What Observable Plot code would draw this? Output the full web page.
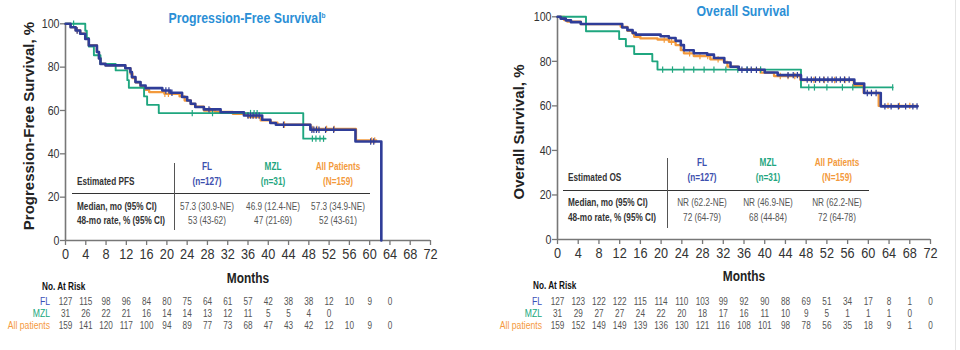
<!DOCTYPE html>
<html><head><meta charset="utf-8">
<script src="https://cdn.jsdelivr.net/npm/d3@7"></script>
<script src="https://cdn.jsdelivr.net/npm/@observablehq/plot@0.6"></script>
<style>
body{margin:0;background:#fff;}
#wrap{position:relative;width:960px;height:350px;overflow:hidden;background:#fff;
  font-family:"Liberation Sans",Arial,sans-serif;}
.abs{position:absolute;white-space:nowrap;line-height:1;}
.c{transform:translate(-50%,-50%) scaleX(0.82);}
.l{transform-origin:0 50%;transform:translate(0,-50%) scaleX(0.82);}
.title{font-size:15px;font-weight:bold;color:#2b8fd6;}
.ylab{font-size:15px;font-weight:bold;color:#222;transform:translate(-50%,-50%) rotate(-90deg);}
.xlab{font-size:14.5px;font-weight:bold;color:#222;}
.tb{font-size:10px;color:#333;font-weight:bold;}
.tv{font-size:10px;color:#555;}
.hFL{font-size:10px;font-weight:bold;color:#3d4fae;}
.hMZL{font-size:10px;font-weight:bold;color:#1fa67f;}
.hAll{font-size:10px;font-weight:bold;color:#f39a3c;}
.risk{font-size:10px;font-weight:bold;color:#111;}
.hline{position:absolute;height:0;border-top:1.6px solid #333;}
.vline{position:absolute;width:0;border-left:1.5px solid #555;}
.plot{position:absolute;top:0;}
</style></head><body><div id="wrap"></div>
<script>
// ---------- data ----------
const xTicks = [0,4,8,12,16,20,24,28,32,36,40,44,48,52,56,60,64,68,72];
const yTicks = [0,20,40,60,80,100];
const groups = ["FL","MZL","All patients"];

// PFS curves (months, % surviving)
const pfsFL_t  = [0,1.0,2.0,2.9,3.9,4.6,6.2,6.6,6.9,7.9,11.8,12.8,13.1,13.8,14.8,15.8,19.1,20.7,23.0,24.0,24.7,25.6,27.3,30.6,35.2,38.8,40.4,41.5,48.3,57.2,62.3];
const pfsFL_s  = [100,98.4,96.9,95.4,93.0,90.0,87.0,84.0,81.5,80.8,79.5,77.7,75.4,73.1,71.5,70.3,69.2,68.2,66.2,64.6,63.1,61.6,60.5,59.2,57.7,55.7,54.2,53.4,51.1,45.7,0];
const pfsMZL_t = [0,3.9,4.2,4.6,5.6,6.9,9.9,12.2,12.5,15.5,16.1,18.4,46.9,51.3];
const pfsMZL_s = [100,96.8,93.5,89.5,85.5,81.5,78.5,74.0,70.5,66.5,62.6,58.8,47.0,47.0];
const pfsAll_t = [0,1.0,2.0,2.9,3.9,4.6,6.2,6.6,6.9,7.9,11.8,12.8,13.2,13.8,14.8,15.6,16.5,19.5,22.5,23.5,24.7,25.6,27.3,29.5,33.0,36.0,38.5,40.5,41.8,48.3,57.3,61.3];
const pfsAll_s = [100,98.5,97.0,95.5,93.0,90.0,87.0,84.0,81.5,80.8,79.5,77.0,75.0,73.0,71.0,69.5,68.5,67.7,66.5,64.6,63.0,61.8,60.0,59.3,58.5,57.0,55.4,54.4,53.5,51.5,46.2,46.2];
const pfsCensFL  = [2.3,19.8,20.4,21.0,28.3,36.0,36.5,37.0,37.6,38.2,43.0,48.6,49.0,49.5,50.0,51.3,52.9,60.2,60.8];
const pfsCensMZL = [1.6,25.0,29.0,36.5,37.2,37.8,48.7,49.4,50.2,50.9];
const pfsCensAll = [2.3,19.6,20.3,28.5,43.2,48.8,49.6,51.5,53.0,60.4,61.0];

// OS curves
const osFL_t  = [0,0.6,1.6,2.6,4.5,12.5,13.5,14.5,15.1,19.9,21.5,22.8,23.8,24.4,26.3,28.9,30.2,32.2,33.4,35.0,40.0,42.5,47.0,57.3,59.2,62.4,69.5];
const osFL_s  = [100,99.2,98.4,97.6,96.8,95.2,94.0,92.8,92.0,91.3,90.5,89.2,87.3,85.0,83.6,83.0,81.5,79.5,77.6,76.2,75.0,73.8,71.8,70.0,65.8,59.8,59.8];
const osMZL_t = [0,5.5,11.9,13.2,14.8,18.3,19.3,47.0,64.7];
const osMZL_s = [100,93.5,90.0,86.8,83.3,80.0,76.3,68.3,68.3];
const osAll_t = [0,1.3,1.9,4.5,12.2,13.5,14.5,14.8,16.0,19.3,21.5,22.8,23.8,24.4,26.3,29.5,32.1,32.8,34.8,39.2,41.8,46.9,57.2,59.1,62.0,69.5];
const osAll_s = [100,98.5,97.8,96.7,95.5,93.7,92.5,91.0,90.3,89.8,88.8,87.3,85.0,83.6,82.4,80.9,79.8,77.6,76.4,74.9,73.4,71.6,69.0,65.8,60.0,60.0];
const osCensFL  = [35.6,36.6,37.4,38.4,44.5,45.5,46.3,48.2,49.0,49.8,50.6,51.4,52.2,53.0,53.8,54.6,55.4,56.3,59.8,60.6,61.5,63.2,64.4,65.8,67.2,68.6,69.4];
const osCensMZL = [20.3,22.2,24.4,26.3,28.3,30.2,32.5,34.8,36.6,39.2,48.5,49.6,52.0,55.0,57.0,64.7];
const osCensAll = [20.6,22.0,25.5,27.5,29.0,31.0,43.0,44.5,45.8,49.5,51.5,53.5,55.5,63.8,66.0,68.0];

// Number at risk (every 4 months from 0)
const pfsRiskFL  = [127,115,98,96,84,80,75,64,61,57,42,38,38,12,10,9,0];
const pfsRiskMZL = [31,26,22,21,16,14,14,13,12,11,5,5,4,0];
const pfsRiskAll = [159,141,120,117,100,94,89,77,73,68,47,43,42,12,10,9,0];
const osRiskFL   = [127,123,122,122,115,114,110,103,99,92,90,88,69,51,34,17,8,1,0];
const osRiskMZL  = [31,29,27,27,24,22,20,18,17,16,11,10,9,5,1,1,1,0];
const osRiskAll  = [159,152,149,149,139,136,130,121,116,108,101,98,78,56,35,18,9,1,0];

// table texts
const pfsTable = {
  head: "Estimated PFS",
  cols: [["FL","(n=127)"],["MZL","(n=31)"],["All Patients","(N=159)"]],
  rowLabels: ["Median, mo (95% CI)","48-mo rate, % (95% CI)"],
  vals: [["57.3 (30.9-NE)","46.9 (12.4-NE)","57.3 (34.9-NE)"],["53 (43-62)","47 (21-69)","52 (43-61)"]]
};
const osTable = {
  head: "Estimated OS",
  cols: [["FL","(n=127)"],["MZL","(n=31)"],["All Patients","(N=159)"]],
  rowLabels: ["Median, mo (95% CI)","48-mo rate, % (95% CI)"],
  vals: [["NR (62.2-NE)","NR (46.9-NE)","NR (62.2-NE)"],["72 (64-79)","68 (44-84)","72 (64-78)"]]
};

// ---------- styles ----------
const COL = {"FL":"#2f3d98","MZL":"#1fa67f","All patients":"#f39a3c"};
const LABCOL = {"FL":"#3a4fb8","MZL":"#17a77c","All patients":"#f59a3e"};
const WID = {"FL":2.6,"MZL":1.9,"All patients":2.3};
const FONT = '"Liberation Sans",Arial,sans-serif';
const SQUEEZE = 0.82;
const tickSym = {draw(ctx, size){ const r = Math.sqrt(size/Math.PI); ctx.moveTo(0,-r); ctx.lineTo(0,r); }};

function rows(t, s, g){ return t.map((m,i)=>({month:m, surv:s[i], group:g})); }
function cens(c, t, s, g){
  return c.map(m=>{ let k=0; for(let i=0;i<t.length;i++) if(t[i]<=m) k=i; return {month:m, surv:s[k], group:g}; });
}
function riskRows(arrs){
  const out=[]; arrs.forEach((a,gi)=>a.forEach((n,i)=>out.push({month:xTicks[i], row:groups[gi], n})));
  return out;
}
// horizontally condense svg text (the source uses a narrow typeface)
function squeeze(svg){
  svg.querySelectorAll("text").forEach(t=>{
    const w = t.getComputedTextLength();
    if (w>0){ t.setAttribute("textLength", (w*SQUEEZE).toFixed(2)); t.setAttribute("lengthAdjust","spacingAndGlyphs"); }
  });
}

const wrap = document.getElementById("wrap");
function addDiv(cls, html, x, y, extra){
  const d=document.createElement("div"); d.className="abs "+cls; d.innerHTML=html;
  d.style.left=x+"px"; d.style.top=y+"px"; if(extra) Object.assign(d.style, extra); wrap.appendChild(d); return d;
}

function panel(cfg){
  const series = [
    {g:"All patients", t:cfg.All_t, s:cfg.All_s, c:cfg.cAll},
    {g:"MZL", t:cfg.MZL_t, s:cfg.MZL_s, c:cfg.cMZL},
    {g:"FL", t:cfg.FL_t, s:cfg.FL_s, c:cfg.cFL}
  ];
  const marks = [
    Plot.axisX({ticks:xTicks, tickSize:5, tickPadding:2, fontSize:15.5, label:null, stroke:"#777", fill:"#333", strokeWidth:1.3}),
    Plot.axisY({ticks:yTicks, tickSize:5, tickPadding:1, fontSize:13, label:null, stroke:"#777", fill:"#333", strokeWidth:1.3}),
    Plot.ruleY([0],{stroke:"#777",strokeWidth:1.6}),
    Plot.ruleX([0],{stroke:"#777",strokeWidth:1.6})
  ];
  series.forEach(se=>{
    marks.push(Plot.line(rows(se.t,se.s,se.g),{x:"month",y:"surv",curve:"step-after",stroke:COL[se.g],strokeWidth:WID[se.g]}));
    marks.push(Plot.dot(cens(se.c,se.t,se.s,se.g),{x:"month",y:"surv",symbol:tickSym,r:3.2,fill:"none",stroke:COL[se.g],strokeWidth:1.2}));
  });
  const p = Plot.plot({
    width:480, height:290,
    marginLeft:cfg.ml, marginRight:cfg.mr, marginTop:cfg.mt, marginBottom:cfg.mb,
    x:{domain:[0,72]}, y:{domain:[0,100]},
    style:{fontFamily:FONT, background:"transparent", color:"#333", overflow:"visible"},
    marks
  });
  p.classList.add("plot"); p.style.left=cfg.left+"px"; wrap.appendChild(p); squeeze(p);

  // number at risk
  const rk = Plot.plot({
    width:480, height:50,
    marginLeft:cfg.ml, marginRight:cfg.mr, marginTop:0, marginBottom:0,
    x:{domain:[0,72], axis:null},
    y:{type:"point", domain:groups, range:[10,35.5], padding:0, axis:null},
    color:{type:"identity"},
    style:{fontFamily:FONT, background:"transparent", overflow:"visible"},
    marks:[
      Plot.text(riskRows(cfg.risk),{x:"month",y:"row",text:"n",fill:"#555",fontSize:10}),
      Plot.text(groups,{x:()=>0,y:d=>d,text:d=>d,textAnchor:"end",dx:cfg.labDx,fill:d=>LABCOL[d],fontSize:10.5})
    ]
  });
  rk.classList.add("plot"); rk.style.left=cfg.left+"px"; rk.style.top="290px"; wrap.appendChild(rk); squeeze(rk);

  // titles and labels
  addDiv("title c", cfg.title, cfg.titleX, cfg.titleY);
  addDiv("ylab", cfg.ylab, cfg.ylabX, cfg.ylabY);
  addDiv("xlab c", "Months", cfg.left + (cfg.ml + 480 - cfg.mr)/2, cfg.monthsY);
  addDiv("risk l", "No. At Risk", cfg.riskX, cfg.riskY);

  // embedded table
  const T = cfg.table, tb = cfg.tpos;
  addDiv("tb l", T.head, tb.x0, tb.headY);
  const hl=document.createElement("div"); hl.className="hline";
  hl.style.left=tb.hx1+"px"; hl.style.width=(tb.hx2-tb.hx1)+"px"; hl.style.top=tb.hy+"px"; wrap.appendChild(hl);
  const vl=document.createElement("div"); vl.className="vline";
  vl.style.left=tb.vx+"px"; vl.style.top=tb.vy1+"px"; vl.style.height=(tb.vy2-tb.vy1)+"px"; wrap.appendChild(vl);
  const hc=["hFL","hMZL","hAll"];
  T.cols.forEach((c,i)=>{
    addDiv(hc[i]+" c", c[0], tb.cx[i], tb.h1);
    addDiv(hc[i]+" c", c[1], tb.cx[i], tb.h2);
  });
  T.rowLabels.forEach((r,j)=>{
    addDiv("tb l", r, tb.x0, tb.ry[j]);
    T.vals[j].forEach((v,i)=>addDiv("tv c", v, tb.cx[i], tb.ry[j]));
  });
}

panel({
  left:0, ml:65, mr:50, mt:23.3, mb:50,
  FL_t:pfsFL_t, FL_s:pfsFL_s, MZL_t:pfsMZL_t, MZL_s:pfsMZL_s, All_t:pfsAll_t, All_s:pfsAll_s,
  cFL:pfsCensFL, cMZL:pfsCensMZL, cAll:pfsCensAll,
  risk:[pfsRiskFL,pfsRiskMZL,pfsRiskAll], labDx:-15.5,
  title:'Progression-Free Survival<sup style="font-size:8px;vertical-align:5px;">b</sup>', titleX:247, titleY:17,
  ylab:"Progression-Free Survival, %", ylabX:28, ylabY:126,
  monthsY:278, riskX:42, riskY:287,
  table:pfsTable,
  tpos:{x0:77, headY:181.7, hx1:72, hx2:370, hy:192.5, vx:173.5, vy1:163, vy2:230, cx:[207,273,338], h1:166.7, h2:181.7, ry:[206.7,221]}
});
panel({
  left:480, ml:77, mr:30, mt:16.3, mb:51,
  FL_t:osFL_t, FL_s:osFL_s, MZL_t:osMZL_t, MZL_s:osMZL_s, All_t:osAll_t, All_s:osAll_s,
  cFL:osCensFL, cMZL:osCensMZL, cAll:osCensAll,
  risk:[osRiskFL,osRiskMZL,osRiskAll], labDx:-15.5,
  title:"Overall Survival", titleX:743, titleY:10,
  ylab:"Overall Survival, %", ylabX:518, ylabY:132,
  monthsY:276, riskX:533, riskY:286,
  table:osTable,
  tpos:{x0:568, headY:177.7, hx1:563, hx2:869, hy:190.2, vx:667, vy1:158, vy2:228, cx:[701.7,768,836.7], h1:163.3, h2:178, ry:[203,218]}
});
// faint right border of the slide
const br=document.createElement("div"); br.className="vline"; br.style.left="955px"; br.style.top="0px"; br.style.height="350px"; br.style.borderLeft="1px solid #e4e4e4"; wrap.appendChild(br);
</script>
</body></html>
